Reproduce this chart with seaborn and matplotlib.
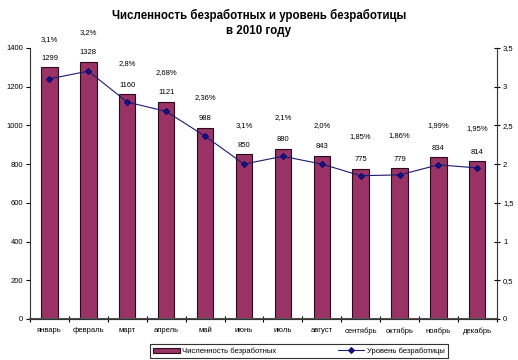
import numpy as np
import pandas as pd
import matplotlib
matplotlib.use("Agg")
import matplotlib.pyplot as plt
from matplotlib.ticker import FixedLocator, FuncFormatter
import seaborn as sns

# данные
months = ["январь", "февраль", "март", "апрель", "май", "июнь",
          "июль", "август", "сентябрь", "октябрь", "ноябрь", "декабрь"]
unemployed = [1299, 1328, 1160, 1121, 988, 850, 880, 843, 775, 779, 834, 814]
rate = [3.1, 3.2, 2.8, 2.68, 2.36, 2.0, 2.1, 2.0, 1.85, 1.86, 1.99, 1.95]
rate_labels = ["3,1%", "3,2%", "2,8%", "2,68%", "2,36%", "3,1%",
               "2,1%", "2,0%", "1,85%", "1,86%", "1,99%", "1,95%"]
left_ticks = [0, 200, 400, 600, 800, 1000, 1200, 1400]
right_ticks = [0, 0.5, 1, 1.5, 2, 2.5, 3, 3.5]

df = pd.DataFrame({"month": months, "count": unemployed, "rate": rate})

sns.set_style("white")
plt.rcParams["font.family"] = ["Liberation Sans", "DejaVu Sans"]
plt.rcParams["text.color"] = "black"
plt.rcParams["xtick.color"] = "black"
plt.rcParams["ytick.color"] = "black"

fig = plt.figure(figsize=(5.18, 3.6), dpi=100)
ax = fig.add_axes([0.058, 0.114, 0.901, 0.753])

sns.barplot(data=df, x="month", y="count", color="#993366", width=0.42,
            edgecolor="#2a0a1a", linewidth=0.8, saturation=1, ax=ax,
            label="Численность безработных")
ax.set_xlim(-0.5, 11.5)
ax.set_ylim(0, 1400)
ax.yaxis.set_major_locator(FixedLocator(left_ticks))
ax.set_xlabel("")
ax.set_ylabel("")

for i, v in enumerate(unemployed):
    ax.annotate(str(v), (i, v), xytext=(0, 4), textcoords="offset points",
                ha="center", va="bottom", fontsize=5.5)

ax2 = ax.twinx()
x_pos = np.arange(len(months))
sns.lineplot(x=x_pos, y=rate, ax=ax2, color="#1a1a70", linewidth=0.8,
             marker="D", markersize=3, markeredgecolor="#000080",
             label="Уровень безработицы", legend=False)
ax2.set_ylim(0, 3.5)
ax2.yaxis.set_major_locator(FixedLocator(right_ticks))
ax2.yaxis.set_major_formatter(FuncFormatter(lambda v, p: ("%g" % v).replace(".", ",")))

for i, (v, t) in enumerate(zip(rate, rate_labels)):
    ax2.annotate(t, (i, v), xytext=(0, 28), textcoords="offset points",
                 ha="center", va="center", fontsize=5.5)

# оси
for a in (ax, ax2):
    a.spines["top"].set_visible(False)
    for s in ("left", "right", "bottom"):
        a.spines[s].set_color("#333333")
        a.spines[s].set_linewidth(0.8)
ax.spines["bottom"].set_color("#555555")
ax.spines["bottom"].set_linewidth(1.5)
ax.spines["right"].set_visible(False)
ax2.spines["left"].set_visible(False)

ax.tick_params(axis="y", which="major", direction="out", length=3, width=0.8,
               labelsize=5.5, pad=2, left=True)
ax.tick_params(axis="x", which="major", length=0, labelsize=5.5, pad=6)
ax.xaxis.set_minor_locator(FixedLocator(np.arange(-0.5, 12, 1)))
ax.tick_params(axis="x", which="minor", direction="inout", length=5, width=0.8,
               bottom=True)
ax2.tick_params(axis="y", which="major", direction="inout", length=5, width=0.8,
                labelsize=5.5, pad=2, right=True)

fig.suptitle("Численность безработных и уровень безработицы\nв 2010 году",
             x=0.5, y=0.975, fontsize=8.3, fontweight="bold", linespacing=1.3,
             color="black")

h1, l1 = ax.get_legend_handles_labels()
h2, l2 = ax2.get_legend_handles_labels()
leg = fig.legend(h1 + h2, l1 + l2, loc="lower center", bbox_to_anchor=(0.577, -0.005),
                 ncol=2, fontsize=5.5, frameon=True, fancybox=False,
                 edgecolor="#333333", framealpha=1, handlelength=3.5,
                 columnspacing=8, borderpad=0.4, handletextpad=0.3)
leg.get_frame().set_linewidth(0.8)
if ax.get_legend() is not None:
    ax.get_legend().remove()

fig.savefig("out.png", dpi=100)
